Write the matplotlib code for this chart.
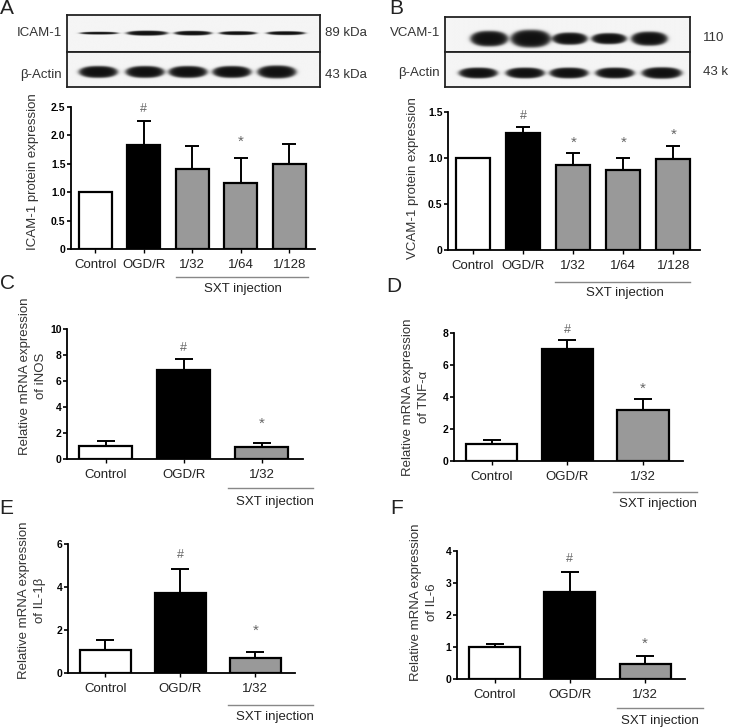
import matplotlib
matplotlib.use("Agg")
import numpy as np
import matplotlib.pyplot as plt

plt.rcParams["font.family"] = ["Liberation Sans", "DejaVu Sans"]

W, H = 735, 728

# ---- bar chart data ----
groups5 = ["Control", "OGD/R", "1/32", "1/64", "1/128"]
groups3 = ["Control", "OGD/R", "1/32"]

icam_mean = [1.00, 1.83, 1.41, 1.16, 1.49]
icam_sem = [0.00, 0.42, 0.40, 0.44, 0.36]
icam_marks = ["", "#", "", "*", ""]
icam_mark_y = [0, 2.47, 0, 1.88, 0]

vcam_mean = [1.00, 1.27, 0.92, 0.87, 0.99]
vcam_sem = [0.00, 0.07, 0.13, 0.13, 0.14]
vcam_marks = ["", "#", "*", "*", "*"]
vcam_mark_y = [0, 1.46, 1.16, 1.16, 1.25]

inos_mean = [1.03, 6.86, 0.95]
inos_sem = [0.38, 0.83, 0.31]
inos_marks = ["", "#", "*"]
inos_mark_y = [0, 8.5, 2.7]

tnf_mean = [1.05, 7.02, 3.18]
tnf_sem = [0.29, 0.52, 0.69]
tnf_marks = ["", "#", "*"]
tnf_mark_y = [0, 8.2, 4.5]

il1b_mean = [1.06, 3.71, 0.70]
il1b_sem = [0.47, 1.13, 0.28]
il1b_marks = ["", "#", "*"]
il1b_mark_y = [0, 5.5, 1.95]

il6_mean = [1.00, 2.71, 0.48]
il6_sem = [0.08, 0.62, 0.25]
il6_marks = ["", "#", "*"]
il6_mark_y = [0, 3.75, 1.1]

colors5 = ["white", "black", "#999999", "#999999", "#999999"]
colors3 = ["white", "black", "#999999"]

# ---- western blot bands (lane centre, width, thickness in box fractions) ----
icam_x = [0.126, 0.316, 0.498, 0.676, 0.866]
icam_w = [0.15, 0.16, 0.145, 0.145, 0.15]
icam_h = [0.07, 0.13, 0.12, 0.10, 0.10]
actA_x = [0.123, 0.308, 0.478, 0.652, 0.830]
actA_w = [0.15, 0.15, 0.15, 0.15, 0.15]
actA_h = [0.33, 0.33, 0.33, 0.33, 0.36]
vcamb_x = [0.180, 0.350, 0.510, 0.670, 0.835]
vcamb_w = [0.15, 0.16, 0.14, 0.14, 0.145]
vcamb_h = [0.42, 0.48, 0.33, 0.30, 0.38]
actB_x = [0.135, 0.327, 0.506, 0.694, 0.886]
actB_w = [0.155, 0.155, 0.155, 0.155, 0.16]
actB_h = [0.30, 0.30, 0.30, 0.30, 0.32]

TXT = "#333333"

fig = plt.figure(figsize=(W / 100, H / 100), dpi=100)


def px_axes(l, t, r, b):
    return fig.add_axes([l / W, 1 - b / H, (r - l) / W, (b - t) / H])


def fx(x):
    return x / W


def fy(y):
    return 1 - y / H


def blot(box, xs, ws, hs, yc):
    ax = px_axes(*box)
    gx, gy = np.meshgrid(np.linspace(0, 1, 500), np.linspace(0, 1, 120))
    img = np.full(gx.shape, 0.96)
    for x, w, h in zip(xs, ws, hs):
        # lens-shaped band with soft edge
        r = np.abs((gx - x) / (w / 2)) ** 2.5 + np.abs((gy - yc) / (h / 2)) ** 2
        img -= 0.9 / (1 + np.exp((r - 1) * 5))
    ax.imshow(np.clip(img, 0, 1), cmap="gray", vmin=0, vmax=1, extent=[0, 1, 0, 1],
              origin="lower", aspect="auto", interpolation="bilinear")
    ax.set_xlim(0, 1)
    ax.set_ylim(0, 1)
    ax.set_xticks([])
    ax.set_yticks([])
    for s in ax.spines.values():
        s.set_linewidth(1.3)
        s.set_color("#222222")
    return ax


def bar_panel(box, cats, means, sems, colors, ymax, yticks, yticklabels, marks, mark_y, capsize):
    ax = px_axes(*box)
    x = list(range(len(cats)))
    ax.errorbar(x, means, yerr=[[0] * len(sems), sems], fmt="none", ecolor="black",
                elinewidth=1.4, capsize=capsize, capthick=1.4, zorder=1)
    ax.bar(x, means, width=0.68, color=colors, edgecolor="black", linewidth=1.6, zorder=2)
    for xi, m, my in zip(x, marks, mark_y):
        if m:
            ax.text(xi, my, m, ha="center", va="center", color="#666666",
                    fontsize=9 if m == "#" else 11)
    ax.set_xlim(-0.5, len(cats) - 0.47)
    ax.set_ylim(0, ymax)
    ax.set_yticks(yticks)
    ax.set_yticklabels(yticklabels, fontsize=7.5, fontweight="bold")
    ax.set_xticks(x)
    ax.set_xticklabels(cats, fontsize=9.5, color="#222222")
    ax.spines["top"].set_visible(False)
    ax.spines["right"].set_visible(False)
    ax.spines["left"].set_linewidth(1.3)
    ax.spines["bottom"].set_linewidth(1.3)
    ax.tick_params(axis="y", length=3, width=1.2, pad=1)
    ax.tick_params(axis="x", length=3, width=1.0, pad=4)
    return ax


def sxt(x0, x1, yl, xt, yt):
    fig.add_artist(plt.Line2D([fx(x0), fx(x1)], [fy(yl), fy(yl)], color="#888888", lw=1.0))
    fig.text(fx(xt), fy(yt), "SXT injection", ha="center", va="center", fontsize=9.5, color="#222222")


def ylab(x, y, s):
    fig.text(fx(x), fy(y), s, rotation=90, ha="center", va="center", fontsize=9.5,
             color=TXT, linespacing=1.4, multialignment="center")


# ---- panel A blot ----
blot((67, 15, 320, 52), icam_x, icam_w, icam_h, 0.51)
blot((67, 52, 320, 87), actA_x, actA_w, actA_h, 0.43)
fig.text(fx(62), fy(33), "ICAM-1", ha="right", va="center", fontsize=9.5, color=TXT)
fig.text(fx(62), fy(75), "β-Actin", ha="right", va="center", fontsize=9.5, color=TXT)
fig.text(fx(325), fy(33), "89 kDa", ha="left", va="center", fontsize=9.5, color=TXT)
fig.text(fx(325), fy(75), "43 kDa", ha="left", va="center", fontsize=9.5, color=TXT)

# ---- panel B blot ----
blot((445, 17, 690, 52), vcamb_x, vcamb_w, vcamb_h, 0.37)
blot((445, 52, 690, 87), actB_x, actB_w, actB_h, 0.40)
fig.text(fx(440), fy(33), "VCAM-1", ha="right", va="center", fontsize=9.5, color=TXT)
fig.text(fx(440), fy(73), "β-Actin", ha="right", va="center", fontsize=9.5, color=TXT)
fig.text(fx(703), fy(38), "110", ha="left", va="center", fontsize=9.5, color=TXT)
fig.text(fx(703), fy(72), "43 k", ha="left", va="center", fontsize=9.5, color=TXT)

# ---- bar panels ----
bar_panel((71, 107, 315, 249), groups5, icam_mean, icam_sem, colors5, 2.5,
          [0, 0.5, 1.0, 1.5, 2.0, 2.5], ["0", "0.5", "1.0", "1.5", "2.0", "2.5"],
          icam_marks, icam_mark_y, 5)
bar_panel((448, 112, 700, 250), groups5, vcam_mean, vcam_sem, colors5, 1.5,
          [0, 0.5, 1.0, 1.5], ["0", "0.5", "1.0", "1.5"],
          vcam_marks, vcam_mark_y, 5)
bar_panel((67, 329, 303, 459), groups3, inos_mean, inos_sem, colors3, 10,
          [0, 2, 4, 6, 8, 10], ["0", "2", "4", "6", "8", "10"],
          inos_marks, inos_mark_y, 6.5)
bar_panel((454, 333, 683, 461), groups3, tnf_mean, tnf_sem, colors3, 8,
          [0, 2, 4, 6, 8], ["0", "2", "4", "6", "8"],
          tnf_marks, tnf_mark_y, 6.5)
bar_panel((68, 544, 295, 673), groups3, il1b_mean, il1b_sem, colors3, 6,
          [0, 2, 4, 6], ["0", "2", "4", "6"],
          il1b_marks, il1b_mark_y, 6.5)
bar_panel((457, 551, 685, 679), groups3, il6_mean, il6_sem, colors3, 4,
          [0, 1, 2, 3, 4], ["0", "1", "2", "3", "4"],
          il6_marks, il6_mark_y, 6.5)

# ---- y labels ----
ylab(33, 172, "ICAM-1 protein expression")
ylab(413, 178, "VCAM-1 protein expression")
ylab(33, 376, "Relative mRNA expression\nof iNOS")
ylab(416, 397, "Relative mRNA expression\nof TNF-α")
ylab(32, 600, "Relative mRNA expression\nof IL-1β")
ylab(424, 602, "Relative mRNA expression\nof IL-6")

# ---- SXT injection brackets ----
sxt(176, 308, 277, 243, 289)
sxt(555, 690, 282, 625, 293)
sxt(228, 313, 488, 275, 502)
sxt(613, 697, 492, 658, 504)
sxt(228, 313, 705, 275, 717)
sxt(617, 703, 708, 660, 721)

# ---- panel letters ----
for letter, x, y in [("A", 7, 8), ("B", 396, 8), ("C", 7, 284),
                     ("D", 394, 287), ("E", 6, 509), ("F", 397, 509)]:
    fig.text(fx(x), fy(y), letter, ha="center", va="center", fontsize=15, color="#222222")

fig.savefig("out.png", dpi=100)
